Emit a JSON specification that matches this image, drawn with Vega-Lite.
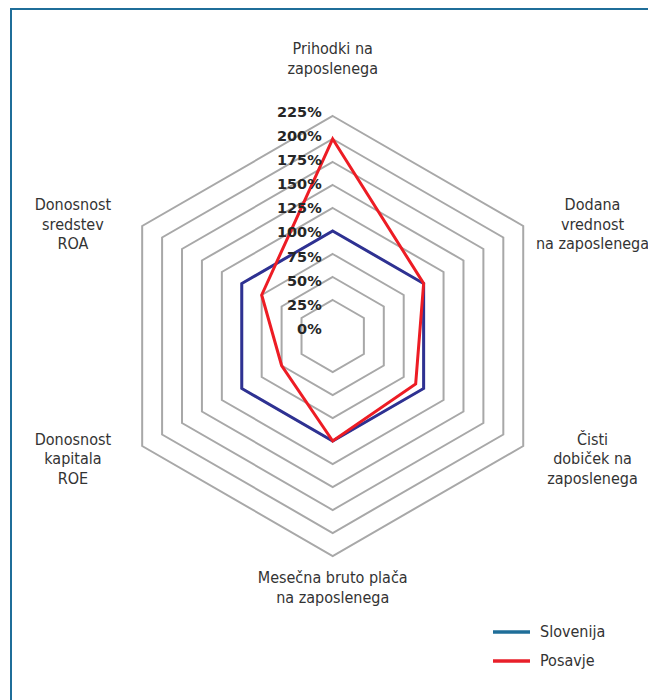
{
  "$schema": "https://vega.github.io/schema/vega-lite/v6.json",
  "autosize": {"type": "none"},
  "padding": {"left": 11, "top": 9, "right": 0, "bottom": 0},
  "width": 660,
  "height": 720,
  "background": "white",
  "view": {"stroke": "#1f6e99", "strokeWidth": 2},
  "datasets": {
    "series": [
      {"series": "Slovenija", "idx": 0, "value": 100},
      {"series": "Slovenija", "idx": 1, "value": 100},
      {"series": "Slovenija", "idx": 2, "value": 100},
      {"series": "Slovenija", "idx": 3, "value": 100},
      {"series": "Slovenija", "idx": 4, "value": 100},
      {"series": "Slovenija", "idx": 5, "value": 100},
      {"series": "Posavje", "idx": 0, "value": 200},
      {"series": "Posavje", "idx": 1, "value": 100},
      {"series": "Posavje", "idx": 2, "value": 90},
      {"series": "Posavje", "idx": 3, "value": 100},
      {"series": "Posavje", "idx": 4, "value": 50},
      {"series": "Posavje", "idx": 5, "value": 75}
    ],
    "rings": [
      {"v": 25, "k": [0, 1, 2, 3, 4, 5]},
      {"v": 50, "k": [0, 1, 2, 3, 4, 5]},
      {"v": 75, "k": [0, 1, 2, 3, 4, 5]},
      {"v": 100, "k": [0, 1, 2, 3, 4, 5]},
      {"v": 125, "k": [0, 1, 2, 3, 4, 5]},
      {"v": 150, "k": [0, 1, 2, 3, 4, 5]},
      {"v": 175, "k": [0, 1, 2, 3, 4, 5]},
      {"v": 200, "k": [0, 1, 2, 3, 4, 5]},
      {"v": 225, "k": [0, 1, 2, 3, 4, 5]}
    ],
    "ticks": [
      {"v": 0, "label": "0%"},
      {"v": 25, "label": "25%"},
      {"v": 50, "label": "50%"},
      {"v": 75, "label": "75%"},
      {"v": 100, "label": "100%"},
      {"v": 125, "label": "125%"},
      {"v": 150, "label": "150%"},
      {"v": 175, "label": "175%"},
      {"v": 200, "label": "200%"},
      {"v": 225, "label": "225%"}
    ],
    "axes": [
      {"idx": 0, "name": "Prihodki na\nzaposlenega"},
      {"idx": 1, "name": "Dodana\nvrednost\nna zaposlenega"},
      {"idx": 2, "name": "Čisti\ndobiček na\nzaposlenega"},
      {"idx": 3, "name": "Mesečna bruto plača\nna zaposlenega"},
      {"idx": 4, "name": "Donosnost\nkapitala\nROE"},
      {"idx": 5, "name": "Donosnost\nsredstev\nROA"}
    ]
  },
  "encoding": {
    "x": {"type": "quantitative", "scale": {"domain": [-321.7, 338.3], "nice": false, "zero": false}, "axis": null},
    "y": {"type": "quantitative", "scale": {"domain": [-393, 327], "nice": false, "zero": false}, "axis": null}
  },
  "layer": [
    {
      "data": {"name": "rings"},
      "transform": [
        {"flatten": ["k"]},
        {"calculate": "13 + 0.92 * datum.v", "as": "r"},
        {"calculate": "datum.r * sin(datum.k * PI / 3)", "as": "px"},
        {"calculate": "datum.r * cos(datum.k * PI / 3)", "as": "py"}
      ],
      "mark": {"type": "line", "interpolate": "linear-closed", "stroke": "#a8a8a8", "strokeWidth": 2},
      "encoding": {
        "x": {"field": "px", "type": "quantitative"},
        "y": {"field": "py", "type": "quantitative"},
        "detail": {"field": "v", "type": "nominal"},
        "order": {"field": "k", "type": "quantitative"}
      }
    },
    {
      "data": {"name": "series"},
      "transform": [
        {"filter": "datum.series == 'Slovenija'"},
        {"calculate": "13 + 0.92 * datum.value", "as": "r"},
        {"calculate": "datum.r * sin(datum.idx * PI / 3)", "as": "px"},
        {"calculate": "datum.r * cos(datum.idx * PI / 3)", "as": "py"}
      ],
      "mark": {"type": "line", "interpolate": "linear-closed", "strokeWidth": 3},
      "encoding": {
        "x": {"field": "px", "type": "quantitative"},
        "y": {"field": "py", "type": "quantitative"},
        "order": {"field": "idx", "type": "quantitative"},
        "stroke": {
          "field": "series", "type": "nominal",
          "scale": {"domain": ["Posavje", "Slovenija"], "range": ["#ed1c24", "#2e3192"]},
          "legend": null
        }
      }
    },
    {
      "data": {"name": "series"},
      "transform": [
        {"filter": "datum.series == 'Posavje'"},
        {"calculate": "13 + 0.92 * datum.value", "as": "r"},
        {"calculate": "datum.r * sin(datum.idx * PI / 3)", "as": "px"},
        {"calculate": "datum.r * cos(datum.idx * PI / 3)", "as": "py"}
      ],
      "mark": {"type": "line", "interpolate": "linear-closed", "strokeWidth": 3},
      "encoding": {
        "x": {"field": "px", "type": "quantitative"},
        "y": {"field": "py", "type": "quantitative"},
        "order": {"field": "idx", "type": "quantitative"},
        "stroke": {"field": "series", "type": "nominal", "legend": null}
      }
    },
    {
      "data": {"name": "series"},
      "transform": [
        {"calculate": "datum.series", "as": "legendName"},
        {"calculate": "13 + 0.92 * datum.value", "as": "r"},
        {"calculate": "datum.r * sin(datum.idx * PI / 3)", "as": "px"},
        {"calculate": "datum.r * cos(datum.idx * PI / 3)", "as": "py"}
      ],
      "mark": {"type": "line", "interpolate": "linear-closed", "strokeWidth": 3, "strokeOpacity": 0},
      "encoding": {
        "x": {"field": "px", "type": "quantitative"},
        "y": {"field": "py", "type": "quantitative"},
        "order": {"field": "idx", "type": "quantitative"},
        "color": {
          "field": "legendName", "type": "nominal",
          "scale": {"domain": ["Slovenija", "Posavje"], "range": ["#1f6e99", "#e8202a"]},
          "legend": {
            "title": null, "orient": "none", "legendX": 480, "legendY": 602.5,
            "padding": 0, "symbolType": "stroke", "symbolSize": 1369, "symbolStrokeWidth": 3.5,
            "symbolOpacity": 1,
            "rowPadding": -7, "labelOffset": 8, "labelFont": "DejaVu Sans Condensed",
            "labelFontSize": 16, "labelColor": "#333333"
          }
        }
      }
    },
    {
      "data": {"name": "ticks"},
      "transform": [
        {"calculate": "6 + 0.9658 * datum.v", "as": "py"}
      ],
      "mark": {"type": "text", "align": "right", "baseline": "middle", "dx": -11, "font": "DejaVu Sans", "fontWeight": "bold", "fontSize": 14.5, "color": "#262626"},
      "encoding": {
        "x": {"datum": 0, "type": "quantitative"},
        "y": {"field": "py", "type": "quantitative"},
        "text": {"field": "label", "type": "nominal"}
      }
    },
    {
      "data": {"name": "axes"},
      "transform": [
        {"calculate": "datum.idx * PI / 3", "as": "th"},
        {"calculate": "300 * sin(datum.th)", "as": "px"},
        {"calculate": "224.5 * cos(datum.th) + 40 * pow(cos(datum.th), 3) + 22.5 - 11.67 * pow(sin(datum.th), 2)", "as": "py"}
      ],
      "mark": {"type": "text", "align": "center", "baseline": "middle", "lineBreak": "\n", "lineHeight": 19.5, "font": "DejaVu Sans Condensed", "fontSize": 16, "color": "#333333"},
      "encoding": {
        "x": {"field": "px", "type": "quantitative"},
        "y": {"field": "py", "type": "quantitative"},
        "text": {"field": "name", "type": "nominal"}
      }
    }
  ]
}
